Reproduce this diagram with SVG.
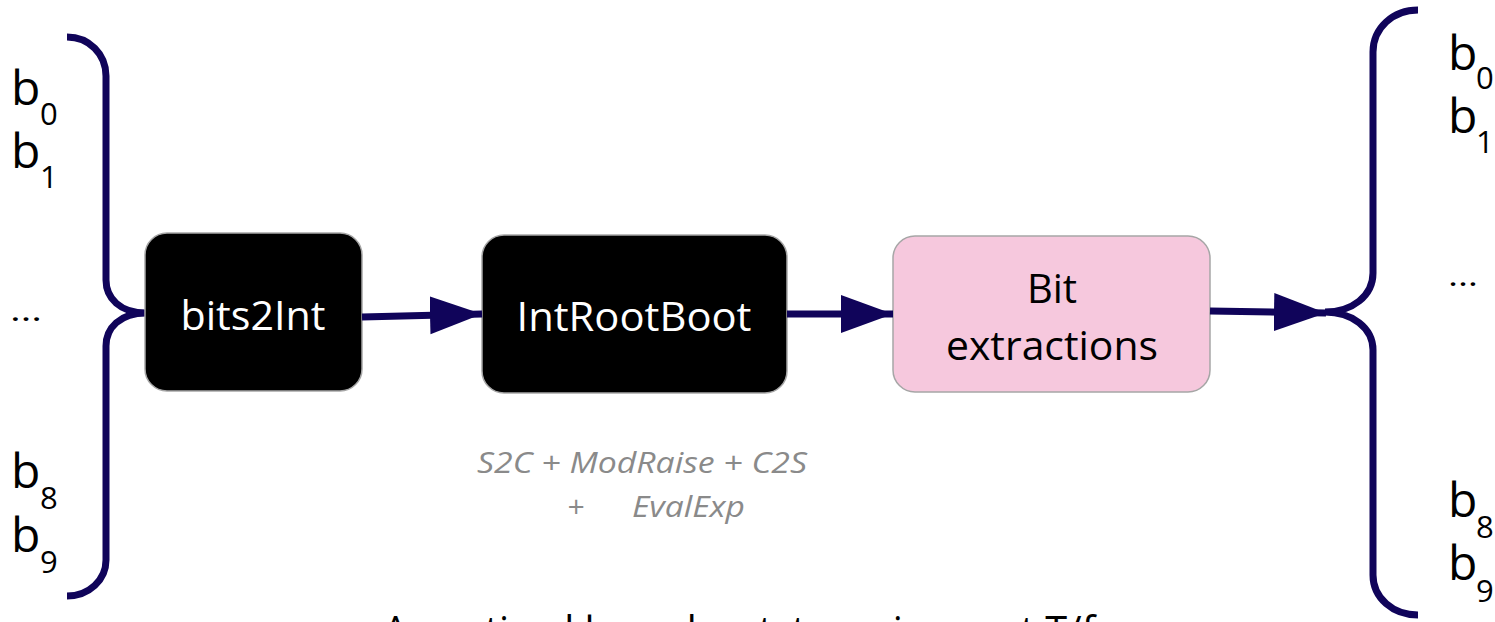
<svg xmlns="http://www.w3.org/2000/svg" width="1495" height="622" viewBox="0 0 1495 622">
  <style>
    .brace { fill: none; stroke: #10045A; stroke-width: 7; stroke-linecap: butt; }
    .edge { fill: none; stroke: #10045A; stroke-width: 7; }
    .bit { font-family: "Open Sans", "Liberation Sans", sans-serif; font-size: 48px; fill: #000; }
    .sub { font-family: "Open Sans", "Liberation Sans", sans-serif; font-size: 31px; fill: #000; }
    .dots { font-family: "Open Sans", "Liberation Sans", sans-serif; font-size: 30px; fill: #000; }
    .box-dark { fill: #000; stroke: #A6A6A6; stroke-width: 1.5; }
    .box-pink { fill: #F6C8DD; stroke: #A6A6A6; stroke-width: 1.5; }
    .lbl { font-family: "Open Sans", "Liberation Sans", sans-serif; font-size: 40px; text-anchor: middle; }
    .note { font-family: "Open Sans", "Liberation Sans", sans-serif; font-size: 30px; font-style: italic; fill: #8A8A8A; }
    .caption { font-family: "Open Sans", "Liberation Sans", sans-serif; font-size: 40px; fill: #000; }
  </style>
  <defs>
    <marker id="head" markerUnits="userSpaceOnUse" markerWidth="54" markerHeight="40" refX="52" refY="19" orient="auto">
      <polygon points="0,0 52,19 0,38" fill="#10045A"/>
    </marker>
  </defs>

  <!-- input bits and opening brace -->
  <g id="inputs">
    <text class="bit" x="11" y="105">b</text><text class="sub" x="40" y="125">0</text>
    <text class="bit" x="11" y="168">b</text><text class="sub" x="40" y="188">1</text>
    <text class="dots" x="10" y="321" textLength="32" lengthAdjust="spacingAndGlyphs">…</text>
    <text class="bit" x="11" y="488">b</text><text class="sub" x="40" y="509">8</text>
    <text class="bit" x="11" y="552">b</text><text class="sub" x="40" y="573">9</text>
    <path class="brace" d="M67,37 C89,37 106,54 106,76 L106,280 C106,298 120,313 146,313 C120,313 106,328 106,346 L106,560 C106,580 89,596 67,596"/>
  </g>

  <!-- output bits and closing brace -->
  <g id="outputs">
    <text class="bit" x="1448" y="70">b</text><text class="sub" x="1476" y="89">0</text>
    <text class="bit" x="1448" y="133">b</text><text class="sub" x="1476" y="153">1</text>
    <text class="dots" x="1448" y="286" textLength="30" lengthAdjust="spacingAndGlyphs">…</text>
    <text class="bit" x="1448" y="517">b</text><text class="sub" x="1476" y="538">8</text>
    <text class="bit" x="1448" y="580">b</text><text class="sub" x="1476" y="602">9</text>
    <path class="brace" d="M1418,10 C1393,10 1373,28 1373,52 L1373,273 C1373,296 1352,312 1325,312 C1352,312 1373,328 1373,350 L1373,575 C1373,598 1393,615 1418,615"/>
  </g>

  <g id="bits2Int">
    <rect class="box-dark" x="145" y="233" width="217" height="158" rx="22"/>
    <text class="lbl" x="253" y="330" fill="#FFF" textLength="145" lengthAdjust="spacingAndGlyphs">bits2Int</text>
  </g>

  <g id="IntRootBoot">
    <rect class="box-dark" x="482" y="235" width="305" height="158" rx="22"/>
    <text class="lbl" x="634" y="331" fill="#FFF" textLength="235" lengthAdjust="spacingAndGlyphs">IntRootBoot</text>
  </g>

  <g id="bit-extractions">
    <rect class="box-pink" x="893" y="236" width="317" height="156" rx="22"/>
    <text class="lbl" x="1052" y="303" fill="#000">Bit</text>
    <text class="lbl" x="1052" y="360" fill="#000" textLength="212" lengthAdjust="spacingAndGlyphs">extractions</text>
  </g>

  <g id="connectors">
    <line class="edge" x1="362" y1="317" x2="482" y2="314" marker-end="url(#head)"/>
    <line class="edge" x1="787" y1="314" x2="893" y2="314" marker-end="url(#head)"/>
    <line class="edge" x1="1210" y1="311" x2="1326" y2="313" marker-end="url(#head)"/>
  </g>

  <!-- steps inside IntRootBoot -->
  <g id="introotboot-steps">
    <text class="note" x="477" y="473" textLength="330" lengthAdjust="spacingAndGlyphs">S2C + ModRaise + C2S</text>
    <text class="note" x="567" y="517">+</text>
    <text class="note" x="632" y="517" textLength="113" lengthAdjust="spacingAndGlyphs">EvalExp</text>
  </g>

  <text class="caption" x="383" y="645" textLength="712" lengthAdjust="spacingAndGlyphs">Amortized large bootstrapping cost T/f</text>
</svg>
